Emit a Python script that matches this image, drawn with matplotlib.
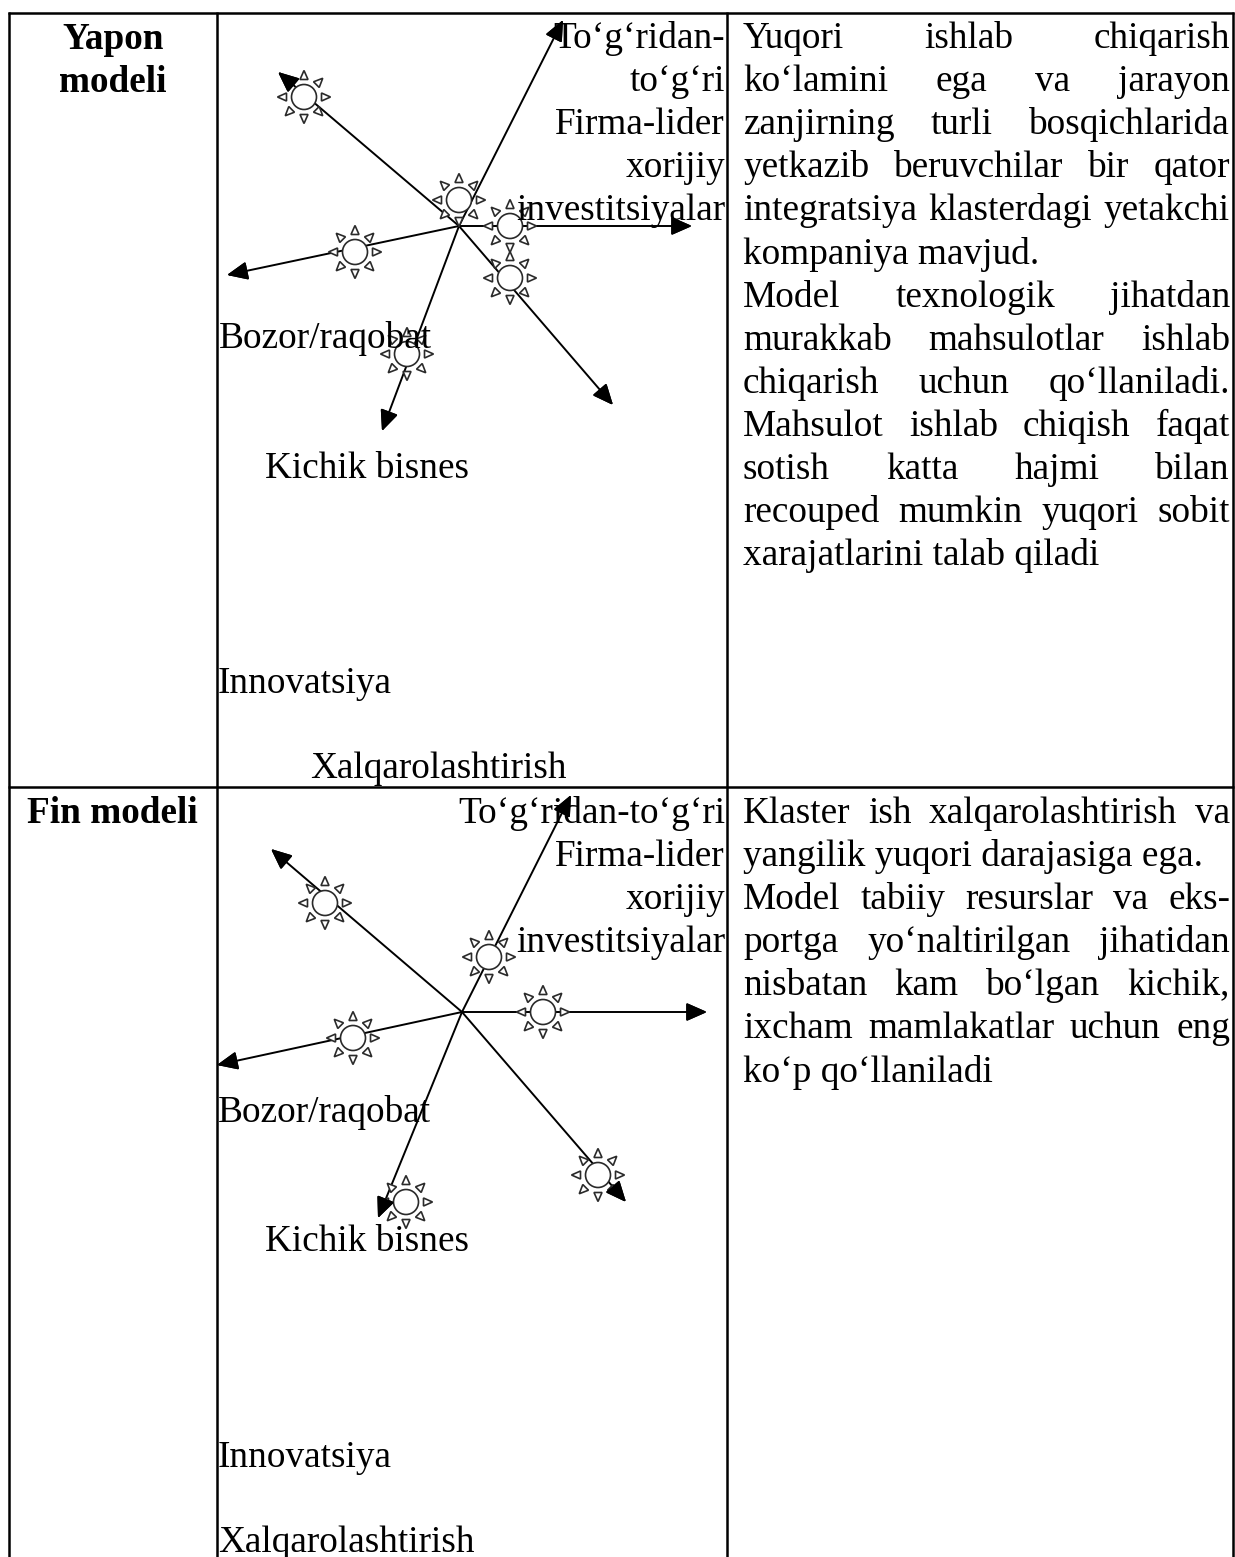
import numpy as np
import matplotlib

matplotlib.use("Agg")
import matplotlib.pyplot as plt
from matplotlib.patches import Circle, Polygon

# pixel coordinates
row_titles = [["Yapon", "modeli"], ["Fin modeli"]]

top_hub = (459, 226)
top_tips = [(563, 20), (278, 72), (227, 275), (382, 431), (613, 405), (692, 226)]
top_suns = [(304, 97), (459, 200), (510, 226), (510, 278), (355, 252), (407, 354)]

bottom_hub = (462, 1012)
bottom_tips = [(571, 795), (271, 849), (217, 1065), (378, 1218), (626, 1202), (707, 1012)]
bottom_suns = [(325, 903), (489, 957), (543, 1012), (353, 1038), (406, 1202), (598, 1175)]

top_right_labels = ["To‘g‘ridan-", "to‘g‘ri", "Firma-lider", "xorijiy", "investitsiyalar"]
bottom_right_labels = ["To‘g‘ridan-to‘g‘ri", "Firma-lider", "xorijiy", "investitsiyalar"]
top_labels = [("Bozor/raqobat", 219, 348), ("Kichik bisnes", 265, 478),
              ("Innovatsiya", 218, 693), ("Xalqarolashtirish", 310, 778)]
bottom_labels = [("Bozor/raqobat", 218, 1122), ("Kichik bisnes", 265, 1251),
                 ("Innovatsiya", 218, 1467), ("Xalqarolashtirish", 218, 1552)]

# (line, justified)
top_text = [
    ("Yuqori ishlab chiqarish", True),
    ("ko‘lamini ega va jarayon", True),
    ("zanjirning turli bosqichlarida", True),
    ("yetkazib beruvchilar bir qator", True),
    ("integratsiya klasterdagi yetakchi", True),
    ("kompaniya mavjud.", False),
    ("Model texnologik jihatdan", True),
    ("murakkab mahsulotlar ishlab", True),
    ("chiqarish uchun qo‘llaniladi.", True),
    ("Mahsulot ishlab chiqish faqat", True),
    ("sotish katta hajmi bilan", True),
    ("recouped mumkin yuqori sobit", True),
    ("xarajatlarini talab qiladi", False),
]
bottom_text = [
    ("Klaster ish xalqarolashtirish va", True),
    ("yangilik yuqori darajasiga ega.", False),
    ("Model tabiiy resurslar va eks-", True),
    ("portga yo‘naltirilgan jihatidan", True),
    ("nisbatan kam bo‘lgan kichik,", True),
    ("ixcham mamlakatlar uchun eng", True),
    ("ko‘p qo‘llaniladi", False),
]

FONT = "Liberation Serif"
SIZE = 26.8
LINE_H = 43.1
RIGHT_COL_L, RIGHT_COL_R = 743, 1230

fig = plt.figure(figsize=(12.35, 15.57), dpi=100)
ax = fig.add_axes([0, 0, 1, 1])
ax.set_xlim(0, 1235)
ax.set_ylim(1557, 0)
ax.axis("off")
renderer = fig.canvas.get_renderer()


def put(x, y, s, ha="left", weight="normal"):
    return ax.text(x, y, s, ha=ha, va="baseline", family=FONT, fontsize=SIZE,
                   fontweight=weight, color="black", zorder=6)


def paragraph(lines, y0):
    for i, (line, justified) in enumerate(lines):
        y = y0 + i * LINE_H
        if not justified:
            put(RIGHT_COL_L, y, line)
            continue
        words = [put(RIGHT_COL_L, y, w) for w in line.split()]
        widths = [t.get_window_extent(renderer).width for t in words]
        gap = (RIGHT_COL_R - RIGHT_COL_L - sum(widths)) / (len(words) - 1)
        x = RIGHT_COL_L
        for t, w in zip(words, widths):
            t.set_x(x)
            x += w + gap


def arrow(start, end, z):
    ax.annotate("", xy=end, xytext=start, zorder=z,
                arrowprops=dict(arrowstyle="-|>,head_length=1.25,head_width=0.55", color="black",
                                lw=1.4, mutation_scale=10, shrinkA=0, shrinkB=0))


def star(cx, cy):
    ax.add_patch(Circle((cx, cy), 12.5, fc="white", ec="#2a2a2a", lw=1.2, zorder=3))
    for a in np.deg2rad(np.arange(0, 360, 45)):
        d = np.array([np.cos(a), np.sin(a)])
        n = np.array([-d[1], d[0]])
        c = np.array([cx, cy])
        tri = [c + d * 26.5, c + d * 17.5 + n * 4, c + d * 17.5 - n * 4]
        ax.add_patch(Polygon(tri, closed=True, fc="white", ec="#2a2a2a", lw=1.2, zorder=3))


def spokes(hub, tips, suns):
    hub_xy = np.array(hub, dtype=float)
    for tip in tips:
        arrow(hub, tip, 2)
        # head again on top of the suns
        tip_xy = np.array(tip, dtype=float)
        d = (hub_xy - tip_xy) / np.linalg.norm(hub_xy - tip_xy)
        arrow(tuple(tip_xy + d * 18), tip, 4)
    for cx, cy in suns:
        star(cx, cy)


# table grid
for x in [9, 217, 727, 1233]:
    ax.plot([x, x], [12, 1557], color="black", lw=1.8, solid_capstyle="butt", zorder=1)
for y in [13, 787]:
    ax.plot([8, 1234], [y, y], color="black", lw=1.8, solid_capstyle="butt", zorder=1)

# first column
for s, y in zip(row_titles[0], [49, 92]):
    put(113, y, s, ha="center", weight="bold")
put(112, 823, row_titles[1][0], ha="center", weight="bold")

spokes(top_hub, top_tips, top_suns)
spokes(bottom_hub, bottom_tips, bottom_suns)

for i, s in enumerate(top_right_labels):
    put(725, 48 + i * LINE_H, s, ha="right")
for i, s in enumerate(bottom_right_labels):
    put(725, 823 + i * LINE_H, s, ha="right")
for s, x, y in top_labels + bottom_labels:
    put(x, y, s)

paragraph(top_text, 48)
paragraph(bottom_text, 823)

fig.savefig("out.png", dpi=100)
plt.close(fig)
